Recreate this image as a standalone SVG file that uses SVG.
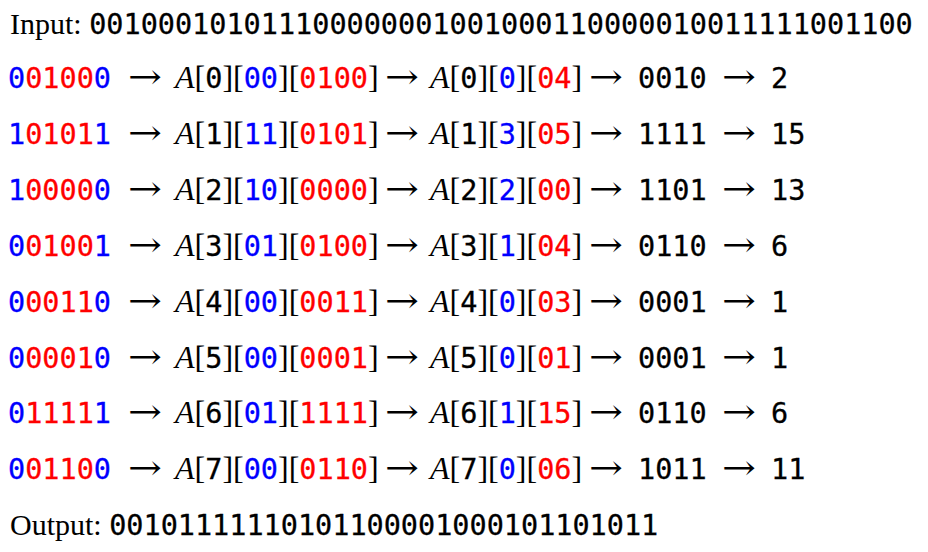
<svg xmlns="http://www.w3.org/2000/svg" width="928" height="552" viewBox="0 0 928 552">
<style>
text{fill:#000}
.s{font-family:"Liberation Serif","Times New Roman",serif;font-size:32px}
.h{font-family:"Liberation Serif","Times New Roman",serif;font-size:30px}
.a{font-family:"DejaVu Serif",serif;font-size:34px}
.m{font-family:"DejaVu Sans Mono",monospace;font-size:28.5px;stroke:#000;stroke-width:0.3px}
.i{font-style:italic}
.b{fill:#0000ff;stroke:#0000ff}
.r{fill:#ff0000;stroke:#ff0000}
</style>
<rect width="928" height="552" fill="#ffffff"/>
<g id="input"><text x="10" y="34" class="h">Input: <tspan class="m">001000101011100000001001000110000010011111001100</tspan></text></g>
<g id="rows">
<g id="row1" transform="translate(0,88)">
<text x="8" class="m"><tspan class="b">0</tspan><tspan class="r">0100</tspan><tspan class="b">0</tspan></text>
<text x="128" class="a" textLength="34" lengthAdjust="spacingAndGlyphs">→</text>
<text x="175" class="s"><tspan class="i">A</tspan>[<tspan class="m">0</tspan>][<tspan class="m b">00</tspan>][<tspan class="m r">0100</tspan>]</text>
<text x="385" class="a" textLength="34" lengthAdjust="spacingAndGlyphs">→</text>
<text x="430" class="s"><tspan class="i">A</tspan>[<tspan class="m">0</tspan>][<tspan class="m b">0</tspan>][<tspan class="m r">04</tspan>]</text>
<text x="589" class="a" textLength="34" lengthAdjust="spacingAndGlyphs">→</text>
<text x="638" class="m">0010</text>
<text x="722" class="a" textLength="34" lengthAdjust="spacingAndGlyphs">→</text>
<text x="771" class="m">2</text>
</g>
<g id="row2" transform="translate(0,144)">
<text x="8" class="m"><tspan class="b">1</tspan><tspan class="r">0101</tspan><tspan class="b">1</tspan></text>
<text x="128" class="a" textLength="34" lengthAdjust="spacingAndGlyphs">→</text>
<text x="175" class="s"><tspan class="i">A</tspan>[<tspan class="m">1</tspan>][<tspan class="m b">11</tspan>][<tspan class="m r">0101</tspan>]</text>
<text x="385" class="a" textLength="34" lengthAdjust="spacingAndGlyphs">→</text>
<text x="430" class="s"><tspan class="i">A</tspan>[<tspan class="m">1</tspan>][<tspan class="m b">3</tspan>][<tspan class="m r">05</tspan>]</text>
<text x="589" class="a" textLength="34" lengthAdjust="spacingAndGlyphs">→</text>
<text x="638" class="m">1111</text>
<text x="722" class="a" textLength="34" lengthAdjust="spacingAndGlyphs">→</text>
<text x="771" class="m">15</text>
</g>
<g id="row3" transform="translate(0,200)">
<text x="8" class="m"><tspan class="b">1</tspan><tspan class="r">0000</tspan><tspan class="b">0</tspan></text>
<text x="128" class="a" textLength="34" lengthAdjust="spacingAndGlyphs">→</text>
<text x="175" class="s"><tspan class="i">A</tspan>[<tspan class="m">2</tspan>][<tspan class="m b">10</tspan>][<tspan class="m r">0000</tspan>]</text>
<text x="385" class="a" textLength="34" lengthAdjust="spacingAndGlyphs">→</text>
<text x="430" class="s"><tspan class="i">A</tspan>[<tspan class="m">2</tspan>][<tspan class="m b">2</tspan>][<tspan class="m r">00</tspan>]</text>
<text x="589" class="a" textLength="34" lengthAdjust="spacingAndGlyphs">→</text>
<text x="638" class="m">1101</text>
<text x="722" class="a" textLength="34" lengthAdjust="spacingAndGlyphs">→</text>
<text x="771" class="m">13</text>
</g>
<g id="row4" transform="translate(0,256)">
<text x="8" class="m"><tspan class="b">0</tspan><tspan class="r">0100</tspan><tspan class="b">1</tspan></text>
<text x="128" class="a" textLength="34" lengthAdjust="spacingAndGlyphs">→</text>
<text x="175" class="s"><tspan class="i">A</tspan>[<tspan class="m">3</tspan>][<tspan class="m b">01</tspan>][<tspan class="m r">0100</tspan>]</text>
<text x="385" class="a" textLength="34" lengthAdjust="spacingAndGlyphs">→</text>
<text x="430" class="s"><tspan class="i">A</tspan>[<tspan class="m">3</tspan>][<tspan class="m b">1</tspan>][<tspan class="m r">04</tspan>]</text>
<text x="589" class="a" textLength="34" lengthAdjust="spacingAndGlyphs">→</text>
<text x="638" class="m">0110</text>
<text x="722" class="a" textLength="34" lengthAdjust="spacingAndGlyphs">→</text>
<text x="771" class="m">6</text>
</g>
<g id="row5" transform="translate(0,312)">
<text x="8" class="m"><tspan class="b">0</tspan><tspan class="r">0011</tspan><tspan class="b">0</tspan></text>
<text x="128" class="a" textLength="34" lengthAdjust="spacingAndGlyphs">→</text>
<text x="175" class="s"><tspan class="i">A</tspan>[<tspan class="m">4</tspan>][<tspan class="m b">00</tspan>][<tspan class="m r">0011</tspan>]</text>
<text x="385" class="a" textLength="34" lengthAdjust="spacingAndGlyphs">→</text>
<text x="430" class="s"><tspan class="i">A</tspan>[<tspan class="m">4</tspan>][<tspan class="m b">0</tspan>][<tspan class="m r">03</tspan>]</text>
<text x="589" class="a" textLength="34" lengthAdjust="spacingAndGlyphs">→</text>
<text x="638" class="m">0001</text>
<text x="722" class="a" textLength="34" lengthAdjust="spacingAndGlyphs">→</text>
<text x="771" class="m">1</text>
</g>
<g id="row6" transform="translate(0,368)">
<text x="8" class="m"><tspan class="b">0</tspan><tspan class="r">0001</tspan><tspan class="b">0</tspan></text>
<text x="128" class="a" textLength="34" lengthAdjust="spacingAndGlyphs">→</text>
<text x="175" class="s"><tspan class="i">A</tspan>[<tspan class="m">5</tspan>][<tspan class="m b">00</tspan>][<tspan class="m r">0001</tspan>]</text>
<text x="385" class="a" textLength="34" lengthAdjust="spacingAndGlyphs">→</text>
<text x="430" class="s"><tspan class="i">A</tspan>[<tspan class="m">5</tspan>][<tspan class="m b">0</tspan>][<tspan class="m r">01</tspan>]</text>
<text x="589" class="a" textLength="34" lengthAdjust="spacingAndGlyphs">→</text>
<text x="638" class="m">0001</text>
<text x="722" class="a" textLength="34" lengthAdjust="spacingAndGlyphs">→</text>
<text x="771" class="m">1</text>
</g>
<g id="row7" transform="translate(0,423)">
<text x="8" class="m"><tspan class="b">0</tspan><tspan class="r">1111</tspan><tspan class="b">1</tspan></text>
<text x="128" class="a" textLength="34" lengthAdjust="spacingAndGlyphs">→</text>
<text x="175" class="s"><tspan class="i">A</tspan>[<tspan class="m">6</tspan>][<tspan class="m b">01</tspan>][<tspan class="m r">1111</tspan>]</text>
<text x="385" class="a" textLength="34" lengthAdjust="spacingAndGlyphs">→</text>
<text x="430" class="s"><tspan class="i">A</tspan>[<tspan class="m">6</tspan>][<tspan class="m b">1</tspan>][<tspan class="m r">15</tspan>]</text>
<text x="589" class="a" textLength="34" lengthAdjust="spacingAndGlyphs">→</text>
<text x="638" class="m">0110</text>
<text x="722" class="a" textLength="34" lengthAdjust="spacingAndGlyphs">→</text>
<text x="771" class="m">6</text>
</g>
<g id="row8" transform="translate(0,479)">
<text x="8" class="m"><tspan class="b">0</tspan><tspan class="r">0110</tspan><tspan class="b">0</tspan></text>
<text x="128" class="a" textLength="34" lengthAdjust="spacingAndGlyphs">→</text>
<text x="175" class="s"><tspan class="i">A</tspan>[<tspan class="m">7</tspan>][<tspan class="m b">00</tspan>][<tspan class="m r">0110</tspan>]</text>
<text x="385" class="a" textLength="34" lengthAdjust="spacingAndGlyphs">→</text>
<text x="430" class="s"><tspan class="i">A</tspan>[<tspan class="m">7</tspan>][<tspan class="m b">0</tspan>][<tspan class="m r">06</tspan>]</text>
<text x="589" class="a" textLength="34" lengthAdjust="spacingAndGlyphs">→</text>
<text x="638" class="m">1011</text>
<text x="722" class="a" textLength="34" lengthAdjust="spacingAndGlyphs">→</text>
<text x="771" class="m">11</text>
</g>
</g>
<g id="output"><text x="10" y="535" class="h">Output: <tspan class="m">00101111110101100001000101101011</tspan></text></g>
</svg>
